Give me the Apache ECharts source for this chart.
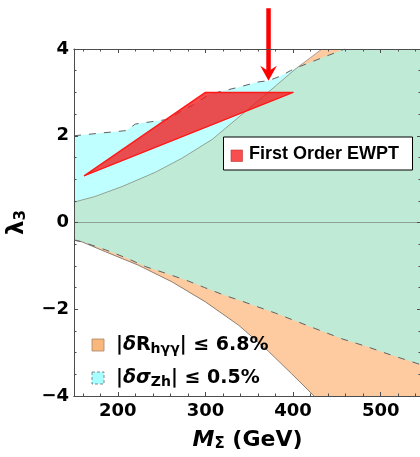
<!DOCTYPE html>
<html>
<head>
<meta charset="utf-8">
<script src="https://cdn.jsdelivr.net/npm/echarts@6/dist/echarts.min.js"></script>
<style>
  html, body { margin: 0; padding: 0; background: #ffffff; }
  #chart { width: 420px; height: 457px; }
</style>
</head>
<body>
<div id="chart"></div>
<script>
// Axis ranges and tick positions
const X_MIN = 150, X_MAX = 546, Y_MIN = -4, Y_MAX = 4;
const xMajorTicks = [200, 300, 400, 500];
const xMinorTicks = [160, 180, 220, 240, 260, 280, 320, 340, 360, 380, 420, 440, 460, 480, 520, 540];

// |δσ_Zh| ≤ 0.5% : upper and lower edges of the allowed band (M_Σ, λ3)
const zhUpper = [[150, 2.00], [210, 2.12], [220, 2.27], [258, 2.38], [275, 2.60], [285, 2.70], [305, 2.96],
                 [338, 3.12], [360, 3.24], [372, 3.27], [385, 3.37], [397, 3.50], [408, 3.60], [459, 4.00]];
const zhLower = [[150, -0.40], [160, -0.45], [186, -0.63], [210, -0.82], [232, -1.02], [253, -1.16], [278, -1.33],
                 [299, -1.50], [322, -1.68], [344, -1.83], [359, -1.94], [380, -2.09], [404, -2.28], [431, -2.49],
                 [457, -2.69], [484, -2.86], [511, -3.05], [534, -3.20], [546, -3.28]];

// |δR_hγγ| ≤ 6.8% : upper and lower edges of the allowed band
const hggUpper = [[150, 0.47], [174, 0.60], [205, 0.83], [243, 1.16], [273, 1.48], [308, 1.92], [351, 2.65],
                  [404, 3.56], [433, 4.00]];
const hggLower = [[150, -0.41], [159, -0.445], [186, -0.675], [223, -0.98], [262, -1.37], [300, -1.83],
                  [338, -2.37], [372, -2.97], [398, -3.48], [424, -4.00]];

// First order electroweak phase transition region
const ewptRegion = [[162, 1.08], [300, 3.00], [400, 3.00]];

// Arrow marking the benchmark mass
const arrowX = 372, arrowTail = 4.94, arrowTip = 3.27;

const CYAN = '#C0FFFF', ORANGE = '#FECBA1', GREEN = '#BFEAD5';
const FONT_AXIS = '"DejaVu Sans", sans-serif';
const FONT_BOX = '"Liberation Sans", Arial, sans-serif';

// Linear evaluation of a boundary polyline; beyond its ends it keeps the end value
function evalAt(pts, x) {
  const n = pts.length;
  if (x <= pts[0][0]) return pts[0][1];
  if (x >= pts[n - 1][0]) return pts[n - 1][1];
  for (let i = 1; i < n; i++) {
    if (x <= pts[i][0]) {
      const [x0, y0] = pts[i - 1], [x1, y1] = pts[i];
      return y0 + (y1 - y0) * (x - x0) / (x1 - x0);
    }
  }
}

// Pointwise min / max of several polylines, with their crossings included
function envelope(curves, pick) {
  const xs = Array.from(new Set(curves.flatMap(c => c.map(p => p[0])).concat([X_MIN, X_MAX])))
    .filter(x => x >= X_MIN && x <= X_MAX).sort((a, b) => a - b);
  const value = x => pick(...curves.map(c => evalAt(c, x)));
  const out = [];
  xs.forEach((x, i) => {
    if (i > 0) {
      const xa = xs[i - 1], cross = [];
      for (let p = 0; p < curves.length; p++) {
        for (let q = p + 1; q < curves.length; q++) {
          const da = evalAt(curves[p], xa) - evalAt(curves[q], xa);
          const db = evalAt(curves[p], x) - evalAt(curves[q], x);
          if (da * db < 0) cross.push(xa + (x - xa) * da / (da - db));
        }
      }
      cross.sort((a, b) => a - b).forEach(cx => out.push([cx, value(cx)]));
    }
    out.push([x, value(x)]);
  });
  return out;
}

const TOP_EDGE = [[X_MIN, Y_MAX], [X_MAX, Y_MAX]];
const BOTTOM_EDGE = [[X_MIN, Y_MIN], [X_MAX, Y_MIN]];
function band(uppers, lowers) {
  const up = envelope(uppers.concat([TOP_EDGE]), Math.min);
  const lo = envelope(lowers.concat([BOTTOM_EDGE]), Math.max);
  return up.concat(lo.reverse());
}

const zhBand = band([zhUpper], [zhLower]);
const hggBand = band([hggUpper], [hggLower]);
const overlapBand = band([zhUpper, hggUpper], [zhLower, hggLower]);

function regionSeries(name, points, fill, z, stroke, lineWidth) {
  return {
    type: 'custom', name: name, z: z, silent: true, clip: true,
    data: [points[0]],
    renderItem: function (params, api) {
      return {
        type: 'polygon',
        shape: { points: points.map(p => api.coord(p)) },
        style: { fill: fill, stroke: stroke || null, lineWidth: lineWidth || 0, lineJoin: 'round' }
      };
    }
  };
}

function boundarySeries(name, points, color, dashed) {
  return {
    type: 'line', name: name, data: points, z: 4, silent: true, clip: true,
    symbol: 'none', showSymbol: false,
    lineStyle: { color: color, width: 1, type: dashed ? [7, 8] : 'solid' }
  };
}

const frameStyle = { color: '#4d4d4d', width: 1 };
const tickLabel = { color: '#000', fontSize: 18, fontWeight: 'bold', fontFamily: FONT_AXIS };

function xAxisDef(position, ticks, len, withLabels) {
  const ax = {
    type: 'value', min: X_MIN, max: X_MAX, position: position, z: 10,
    axisLine: { show: withLabels !== null, onZero: false, lineStyle: frameStyle },
    axisTick: { show: true, inside: true, length: len, customValues: ticks, lineStyle: frameStyle },
    axisLabel: { show: false },
    splitLine: { show: false }
  };
  if (withLabels) {
    ax.axisLabel = Object.assign({ show: true, customValues: xMajorTicks, margin: 6,
      showMinLabel: true, showMaxLabel: true }, tickLabel);
    ax.name = '{i|M}{s|Σ}{b| (GeV)}';
    ax.nameLocation = 'middle';
    ax.nameGap = 31;
    ax.nameMoveOverlap = false;
    ax.nameTextStyle = {
      color: '#000', fontFamily: FONT_AXIS, fontWeight: 'bold', fontSize: 22,
      rich: {
        i: { fontSize: 22, fontWeight: 'bold', fontStyle: 'italic', fontFamily: FONT_AXIS, lineHeight: 26 },
        s: { fontSize: 15, fontWeight: 'bold', fontFamily: FONT_AXIS, lineHeight: 18, padding: [8, 0, 0, 0] },
        b: { fontSize: 22, fontWeight: 'bold', fontFamily: FONT_AXIS, lineHeight: 26 }
      }
    };
  }
  return ax;
}

function yAxisDef(position, withLabels) {
  const ax = {
    type: 'value', min: Y_MIN, max: Y_MAX, interval: 2, position: position, z: 10,
    axisLine: { show: true, onZero: false, lineStyle: frameStyle },
    axisTick: { show: true, inside: true, length: 4, lineStyle: frameStyle },
    minorTick: { show: true, splitNumber: 4, length: 2.5, lineStyle: frameStyle },
    axisLabel: { show: false },
    splitLine: { show: false },
    minorSplitLine: { show: false }
  };
  if (withLabels) {
    ax.axisLabel = Object.assign({
      show: true, margin: 5, showMinLabel: true, showMaxLabel: true,
      formatter: v => (v < 0 ? '\u2212' + (-v) : String(v))
    }, tickLabel);
    ax.name = '{l|λ}{s|3}';
    ax.nameLocation = 'middle';
    ax.nameRotate = 90;
    ax.nameGap = 44;
    ax.nameMoveOverlap = false;
    ax.nameTextStyle = {
      color: '#000', fontFamily: FONT_AXIS, fontWeight: 'bold', fontSize: 23,
      rich: {
        l: { fontSize: 23, fontWeight: 'bold', fontFamily: FONT_AXIS, lineHeight: 26 },
        s: { fontSize: 15, fontWeight: 'bold', fontFamily: FONT_AXIS, lineHeight: 18, padding: [8, 0, 0, 0] }
      }
    };
  }
  return ax;
}

const legendRich = {
  i: { fontSize: 19, fontWeight: 'bold', fontStyle: 'italic', fontFamily: FONT_AXIS, lineHeight: 24 },
  s: { fontSize: 14, fontWeight: 'bold', fontFamily: FONT_AXIS, lineHeight: 16, padding: [8, 0, 0, 0] },
  b: { fontSize: 19, fontWeight: 'bold', fontFamily: FONT_AXIS, lineHeight: 24 }
};

const option = {
  animation: false,
  backgroundColor: '#ffffff',
  grid: { left: 74, right: -1, top: 49, bottom: 61, containLabel: false, outerBoundsMode: 'none' },
  xAxis: [
    xAxisDef('bottom', xMajorTicks, 4, true),
    xAxisDef('bottom', xMinorTicks, 2.5, false),
    xAxisDef('top', xMajorTicks, 4, false),
    xAxisDef('top', xMinorTicks, 2.5, false)
  ],
  yAxis: [yAxisDef('left', true), yAxisDef('right', false)],
  series: [
    regionSeries('|δσZh| ≤ 0.5%', zhBand, CYAN, 1),
    regionSeries('|δRhγγ| ≤ 6.8%', hggBand, ORANGE, 1),
    regionSeries('overlap', overlapBand, GREEN, 2),
    boundarySeries('hgg upper', hggUpper, 'rgba(105,115,105,0.6)', false),
    boundarySeries('hgg lower', hggLower, '#8F7F6F', false),
    boundarySeries('zh upper', zhUpper, '#606060', true),
    Object.assign(boundarySeries('zh lower', zhLower, '#606060', true), {
      markLine: {
        silent: true, symbol: 'none', label: { show: false },
        lineStyle: { color: 'rgba(110,110,110,0.6)', width: 1, type: 'solid' },
        data: [{ yAxis: 0 }]
      }
    }),
    regionSeries('First Order EWPT', ewptRegion, 'rgba(246,19,22,0.75)', 5, '#FF1A1A', 1.5),
    {
      type: 'custom', name: 'arrow', z: 6, silent: true, clip: false,
      data: [[arrowX, arrowTip]],
      renderItem: function (params, api) {
        const tail = api.coord([arrowX, arrowTail]);
        const tip = api.coord([arrowX, arrowTip]);
        const headLen = 15, halfWidth = 8.3, notch = 5.5;
        return {
          type: 'group',
          children: [
            { type: 'line', shape: { x1: tail[0], y1: tail[1], x2: tip[0], y2: tip[1] - headLen + notch + 1 },
              style: { stroke: '#FF0000', lineWidth: 4.5 } },
            { type: 'polygon',
              shape: { points: [[tip[0], tip[1]], [tip[0] - halfWidth, tip[1] - headLen],
                                [tip[0], tip[1] - headLen + notch], [tip[0] + halfWidth, tip[1] - headLen]] },
              style: { fill: '#FF0000' } }
          ]
        };
      }
    }
  ],
  graphic: [
    // EWPT legend box
    { type: 'rect', z: 20, shape: { x: 223.5, y: 137, width: 189, height: 33 },
      style: { fill: '#ffffff', stroke: '#000000', lineWidth: 1 } },
    { type: 'rect', z: 21, shape: { x: 231, y: 150, width: 11.5, height: 11.5 },
      style: { fill: 'rgba(246,19,22,0.75)', stroke: '#C03030', lineWidth: 0.6 } },
    { type: 'text', z: 21, x: 249, y: 154,
      style: { text: 'First Order EWPT', fill: '#000', font: 'bold 18px ' + FONT_BOX,
               align: 'left', verticalAlign: 'middle' } },
    // region legend
    { type: 'rect', z: 20, shape: { x: 92, y: 339, width: 12, height: 12 },
      style: { fill: '#F9B77C', stroke: '#A58566', lineWidth: 0.8 } },
    { type: 'rect', z: 20, shape: { x: 92, y: 372, width: 12, height: 12 },
      style: { fill: '#A8FFFF', stroke: '#707070', lineWidth: 0.8, lineDash: [3, 2] } },
    { type: 'text', z: 20, x: 116, y: 345,
      style: { text: '{b||}{i|δ}{b|R}{s|hγγ}{b|| ≤ 6.8%}', rich: legendRich, fill: '#000',
               font: 'bold 19px ' + FONT_AXIS, align: 'left', verticalAlign: 'middle' } },
    { type: 'text', z: 20, x: 116, y: 378,
      style: { text: '{b||}{i|δσ}{s|Zh}{b|| ≤ 0.5%}', rich: legendRich, fill: '#000',
               font: 'bold 19px ' + FONT_AXIS, align: 'left', verticalAlign: 'middle' } }
  ]
};

const chart = echarts.init(document.getElementById('chart'), null, { renderer: 'canvas' });
chart.setOption(option);
</script>
</body>
</html>
